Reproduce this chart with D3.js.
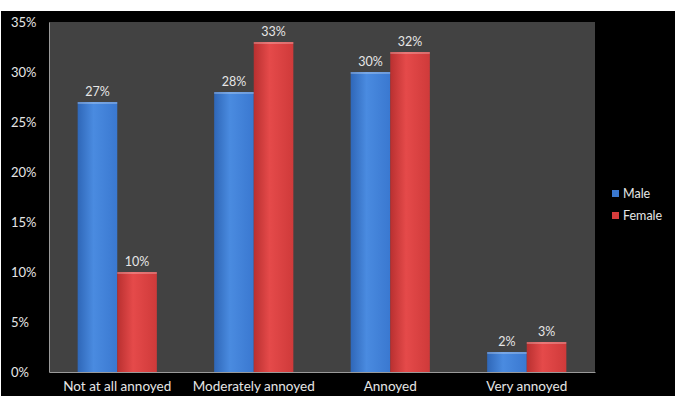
<!DOCTYPE html>
<html><head><meta charset="utf-8">
<script src="https://cdn.jsdelivr.net/npm/d3@7"></script>
<style>html,body{margin:0;padding:0;background:#fff;}svg{display:block;}</style>
</head><body>
<script>
const categories = ["Not at all annoyed", "Moderately annoyed", "Annoyed", "Very annoyed"];
const seriesNames = ["Male", "Female"];
const male = [27, 28, 30, 2];
const female = [10, 33, 32, 3];
const yTicks = [0, 5, 10, 15, 20, 25, 30, 35];
const colors = {Male: "#3a78d0", Female: "#d63b3b"};

const W = 675, H = 396;
const plot = {left: 49, right: 595, top: 22, bottom: 372};

const svg = d3.select("body").append("svg").attr("width", W).attr("height", H);
const defs = svg.append("defs");
const grads = {
  Male: ["#2f67b8", "#4a8be0", "#3a78d0"],
  Female: ["#b93030", "#e54a4a", "#cf3a3a"]
};
Object.entries(grads).forEach(([k, c]) => {
  const g = defs.append("linearGradient").attr("id", "g" + k).attr("x1", 0).attr("x2", 1).attr("y1", 0).attr("y2", 0);
  g.append("stop").attr("offset", "0%").attr("stop-color", c[0]);
  g.append("stop").attr("offset", "40%").attr("stop-color", c[1]);
  g.append("stop").attr("offset", "100%").attr("stop-color", c[2]);
});

svg.append("rect").attr("x", 0).attr("y", 0).attr("width", W).attr("height", H).attr("fill", "#fff");
svg.append("rect").attr("x", 1).attr("y", 11).attr("width", W - 1).attr("height", H - 11).attr("fill", "#000");
svg.append("rect").attr("x", plot.left).attr("y", plot.top).attr("width", plot.right - plot.left)
  .attr("height", plot.bottom - plot.top).attr("fill", "#424242");

const x0 = d3.scaleBand().domain(categories).range([plot.left, plot.right]).paddingInner(0.42).paddingOuter(0.21);
const x1 = d3.scaleBand().domain(seriesNames).range([0, x0.bandwidth()]);
const y = d3.scaleLinear().domain([0, 35]).range([plot.bottom, plot.top]);

const font = "Lato, 'Open Sans', sans-serif";

// bars
const data = categories.map((c, i) => ({cat: c, vals: [{s: "Male", v: male[i]}, {s: "Female", v: female[i]}]}));
const groups = svg.selectAll("g.cat").data(data).join("g").attr("class", "cat")
  .attr("transform", d => `translate(${x0(d.cat)},0)`);
groups.selectAll("rect.bar").data(d => d.vals).join("rect").attr("class", "bar")
  .attr("x", d => x1(d.s)).attr("width", x1.bandwidth())
  .attr("y", d => y(d.v)).attr("height", d => y(0) - y(d.v))
  .attr("fill", d => `url(#g${d.s})`);
groups.selectAll("rect.hl").data(d => d.vals).join("rect").attr("class", "hl")
  .attr("x", d => x1(d.s)).attr("width", x1.bandwidth())
  .attr("y", d => y(d.v)).attr("height", 2)
  .attr("fill", "#ffffff").attr("opacity", 0.25);
groups.selectAll("text.lbl").data(d => d.vals).join("text").attr("class", "lbl")
  .attr("x", d => x1(d.s) + x1.bandwidth() / 2).attr("y", d => y(d.v) - 6)
  .attr("text-anchor", "middle").attr("fill", "#e6e6e6")
  .attr("font-family", font).attr("font-size", 12.5).text(d => d.v + "%");

// axes
const yAxis = svg.append("g").attr("transform", `translate(${plot.left},0)`)
  .call(d3.axisLeft(y).tickValues(yTicks).tickFormat(d => d + "%").tickSize(0).tickPadding(12));
yAxis.select(".domain").attr("stroke", "#9a9a9a");
yAxis.selectAll("text").attr("fill", "#e6e6e6").attr("font-family", font).attr("font-size", 13).attr("text-anchor", "start").attr("x", -38);

const xAxis = svg.append("g").attr("transform", `translate(0,${plot.bottom})`)
  .call(d3.axisBottom(x0).tickSize(0).tickPadding(9));
xAxis.select(".domain").attr("stroke", "#9a9a9a");
xAxis.selectAll("text").attr("fill", "#e6e6e6").attr("font-family", font).attr("font-size", 13.5);

// legend
const legend = svg.append("g").attr("transform", "translate(612,190)");
seriesNames.forEach((s, i) => {
  const g = legend.append("g").attr("transform", `translate(0,${i * 22})`);
  g.append("rect").attr("width", 7).attr("height", 7).attr("fill", colors[s]);
  g.append("text").attr("x", 11).attr("y", 7.5).attr("fill", "#e6e6e6").attr("font-family", font).attr("font-size", 12.5).text(s);
});
</script>
</body></html>
